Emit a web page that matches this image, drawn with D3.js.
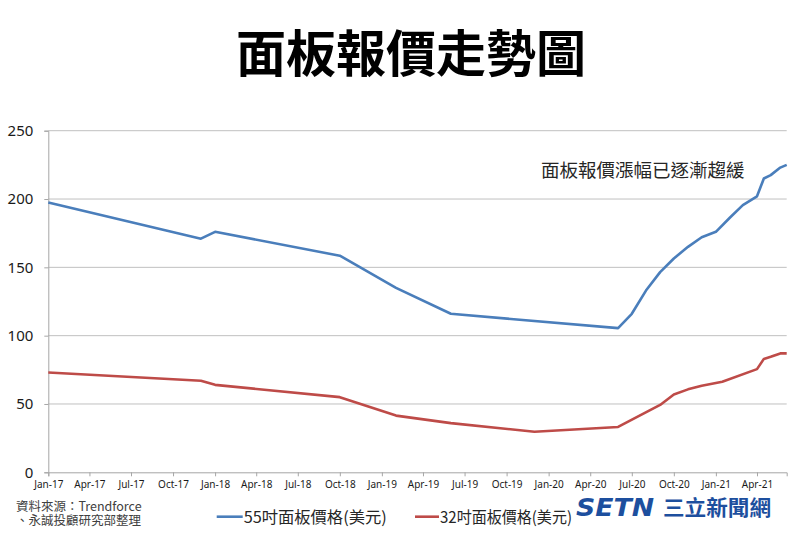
<!DOCTYPE html>
<html><head><meta charset="utf-8">
<script src="https://cdn.jsdelivr.net/npm/d3@7/dist/d3.min.js"></script>
<style>body{margin:0;background:#fff}svg{display:block}</style>
</head><body><svg id="c" width="800" height="538"></svg>
<script>
const title = "面板報價走勢圖";
const annotation = "面板報價漲幅已逐漸趨緩";
const sourceLines = ["資料來源：Trendforce", "、永誠投顧研究部整理"];
const seriesNames = ["55吋面板價格(美元)", "32吋面板價格(美元)"];
const yTicks = [0, 50, 100, 150, 200, 250];

const dates55 = ["2017-01-01","2017-12-01","2018-01-01","2018-10-01","2019-02-01","2019-06-01","2020-06-01","2020-07-01","2020-08-01","2020-09-01","2020-10-01","2020-11-01","2020-12-01","2021-01-01","2021-02-01","2021-03-01","2021-04-01","2021-04-16","2021-05-01","2021-05-22","2021-06-05"];
const values55 = [197.5,171,176,158.5,135,116,105.5,116,133,146.5,156.5,165,172,176,186.5,195.5,202,215,217.5,223,225];

const dates32 = ["2017-01-01","2017-12-01","2018-01-01","2018-10-01","2019-02-01","2019-06-01","2019-12-01","2020-06-01","2020-09-01","2020-10-01","2020-11-01","2020-12-01","2021-01-15","2021-04-01","2021-04-16","2021-05-01","2021-05-22","2021-06-05"];
const values32 = [73,67,64,55,41.5,36,29.7,33.2,49.3,57,60.7,63.4,66.3,75.5,83,84.5,87,87];

const parse = d3.timeParse("%Y-%m-%d");
const svg = d3.select("#c");
const L = 48.3, R = 786.7, T = 130.7, B = 472.3;

const x = d3.scaleTime().domain([parse("2017-01-01"), parse("2021-06-05")]).range([L, R]);
const y = d3.scaleLinear().domain([0, 250]).range([B, T]);

// title
svg.append("text").attr("x", 411).attr("y", 72).attr("text-anchor","middle")
  .attr("font-family","'Noto Sans CJK TC','Noto Sans CJK SC',sans-serif").attr("font-weight","bold")
  .attr("font-size", 50).attr("fill","#000").text(title);

// gridlines
svg.append("g").selectAll("line").data(yTicks.filter(d=>d>0)).join("line")
  .attr("x1", L).attr("x2", R).attr("y1", d=>y(d)).attr("y2", d=>y(d))
  .attr("stroke","#c0c0c0").attr("stroke-width",1);

// y axis
const yAxis = svg.append("g").attr("transform",`translate(${L},0)`)
  .call(d3.axisLeft(y).tickValues(yTicks).tickSize(4).tickPadding(11).tickFormat(d3.format("d")));
yAxis.select(".domain").attr("stroke","#a6a6a6");
yAxis.selectAll(".tick line").attr("stroke","#a6a6a6");
yAxis.selectAll("text").attr("font-family","'Noto Sans',sans-serif").attr("font-size",15).attr("fill","#1a1a1a");

// x axis
const xAxis = svg.append("g").attr("transform",`translate(0,${B})`)
  .call(d3.axisBottom(x).ticks(d3.timeMonth.every(3)).tickSize(4).tickPadding(5).tickFormat(d3.timeFormat("%b-%y")));
xAxis.select(".domain").attr("stroke","#a6a6a6");
xAxis.selectAll(".tick line").attr("stroke","#a6a6a6");
xAxis.selectAll("text").attr("font-family","'Noto Sans',sans-serif").attr("font-size",10).attr("fill","#1a1a1a");

// lines
const line = d3.line().x(d=>x(d[0])).y(d=>y(d[1]));
const s55 = dates55.map((d,i)=>[parse(d), values55[i]]);
const s32 = dates32.map((d,i)=>[parse(d), values32[i]]);
svg.append("path").datum(s32).attr("d", line).attr("fill","none").attr("stroke","#be4b48").attr("stroke-width",2.6).attr("stroke-linejoin","round");
svg.append("path").datum(s55).attr("d", line).attr("fill","none").attr("stroke","#4a7ebb").attr("stroke-width",2.6).attr("stroke-linejoin","round");

// annotation
svg.append("text").attr("x", 541).attr("y", 176.5)
  .attr("font-family","'Noto Sans CJK TC',sans-serif").attr("font-size",18.5).attr("fill","#262626").text(annotation);

// source (one text block, two lines)
const src = svg.append("text").attr("font-family","'Noto Sans CJK TC',sans-serif").attr("font-size",12.5).attr("fill","#404040");
sourceLines.forEach((t,i)=>{
  src.append("tspan").attr("x", 16).attr("y", 510.5 + i*14).text(t);
});

// legend
const legendItems = [{x0:216.7, x1:242.7, color:"#4a7ebb", name:seriesNames[0]},{x0:415, x1:439, color:"#be4b48", name:seriesNames[1]}];
legendItems.forEach(it=>{
  svg.append("line").attr("x1",it.x0).attr("x2",it.x1).attr("y1",516.7).attr("y2",516.7).attr("stroke",it.color).attr("stroke-width",2.6);
  svg.append("text").attr("x", it.x1+1).attr("y", 522.5)
    .attr("font-family","'Noto Sans CJK TC',sans-serif").attr("font-size",16).attr("textLength",it.name === seriesNames[1] ? 132 : 143).attr("lengthAdjust","spacingAndGlyphs")
    .attr("fill","#262626").text(it.name);
});

// logo
const logo = svg.append("g");
logo.append("text").attr("x", 576).attr("y", 516).attr("font-family","'DejaVu Sans',sans-serif").attr("font-weight","bold")
  .attr("font-style","italic").attr("font-size",24).attr("textLength",78).attr("lengthAdjust","spacingAndGlyphs")
  .attr("fill","#1d4f9e").text("SETN");
logo.append("text").attr("x", 663).attr("y", 515).attr("font-family","'Noto Sans CJK TC',sans-serif").attr("font-weight","bold")
  .attr("font-size",21).attr("textLength",108).attr("lengthAdjust","spacingAndGlyphs")
  .attr("fill","#1d4f9e").text("三立新聞網");
</script></body></html>
